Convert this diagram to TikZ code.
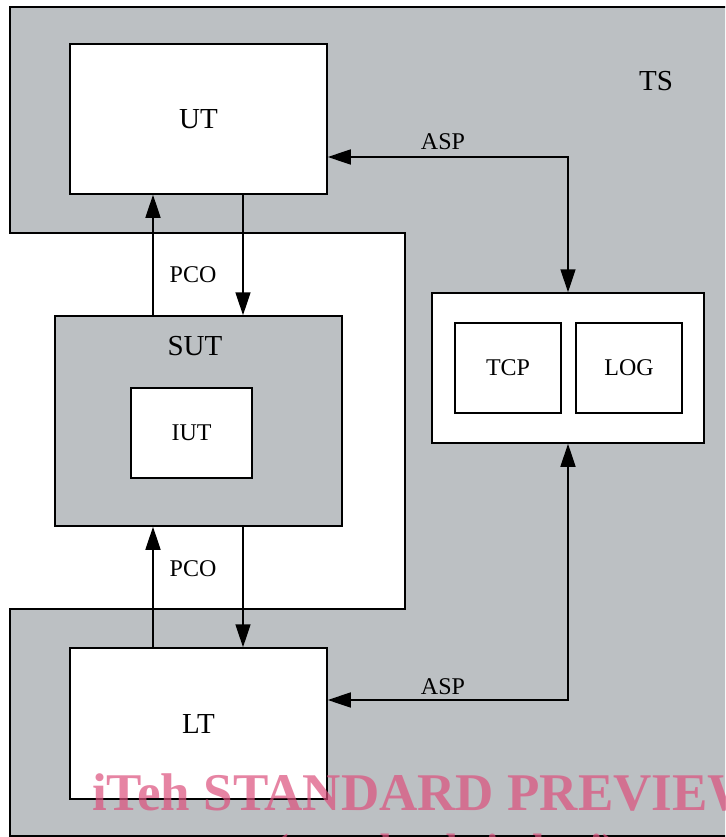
\documentclass[tikz,border=0pt]{standalone}
\usepackage{fontspec}
\setmainfont{Liberation Serif}
\usetikzlibrary{arrows.meta}
\definecolor{tsgray}{RGB}{188,192,195}
\definecolor{wmpink}{RGB}{220,80,125}
\begin{document}
\begin{tikzpicture}[x=1pt,y=-1pt,
  box/.style={draw=black,line width=1.5pt,fill=white,rectangle,inner sep=0pt},
  graybox/.style={box,fill=tsgray},
  big/.style={font=\fontsize{29}{33}\selectfont,inner sep=0pt},
  small/.style={font=\fontsize{24}{28}\selectfont,inner sep=0pt},
  conn/.style={line width=1.5pt,-{Triangle[length=23pt,width=15pt]}},
  conn2/.style={line width=1.5pt,{Triangle[length=23pt,width=15pt]}-{Triangle[length=23pt,width=15pt]}},
  wmark/.style={text=wmpink,text opacity=0.7,font=\bfseries\fontsize{53}{57}\selectfont,inner sep=0pt}]
\useasboundingbox (0,0) rectangle (725,837);
\clip (0,0) rectangle (725,837);
% TS region
\draw[line width=1.5pt,fill=tsgray] (10,7) -- (745,7) -- (745,836) -- (10,836) -- (10,609) -- (405,609) -- (405,233) -- (10,233) -- cycle;
\node[big,anchor=base] (ts) at (656,91) {TS};
% boxes
\node[box,minimum width=257pt,minimum height=150pt] (ut) at (198.5,119) {};
\node[big] (utl) at (ut.center) {UT};
\node[box,minimum width=257pt,minimum height=151pt] (lt) at (198.5,723.5) {};
\node[big] (ltl) at (lt.center) {LT};
\node[graybox,minimum width=287pt,minimum height=210pt] (sut) at (198.5,421) {};
\node[big,anchor=base] (sutl) at (195,355) {SUT};
\node[box,minimum width=121pt,minimum height=90pt] (iut) at (191.5,433) {};
\node[small] (iutl) at (iut.center) {IUT};
\node[box,minimum width=272pt,minimum height=150pt] (tc) at (568,368) {};
\node[box,minimum width=106pt,minimum height=90pt] (tcp) at (508,368) {};
\node[small] (tcpl) at (tcp.center) {TCP};
\node[box,minimum width=106pt,minimum height=90pt] (log) at (629,368) {};
\node[small] (logl) at (log.center) {LOG};
% helper coordinates
\coordinate (pa) at (153,0);
\coordinate (pb) at (243,0);
\coordinate (a1) at (0,157);
\coordinate (a2) at (0,700);
% PCO connectors
\draw[conn] (sut.north -| pa) -- (ut.south -| pa);
\draw[conn] (ut.south -| pb) -- (sut.north -| pb);
\draw[conn] (lt.north -| pa) -- (sut.south -| pa);
\draw[conn] (sut.south -| pb) -- (lt.north -| pb);
\node[small,anchor=base] (pco1) at (193,282) {PCO};
\node[small,anchor=base] (pco2) at (193,576) {PCO};
% ASP connectors
\draw[conn2] (ut.east |- a1) -| (tc.north);
\draw[conn2] (lt.east |- a2) -| (tc.south);
\node[small,anchor=base] (asp1) at (443,150) {ASP};
\node[small,anchor=base] (asp2) at (443,694) {ASP};
% watermark
\node[wmark,anchor=base west] (wm1) at (92,810) {iTeh STANDARD PREVIEW};
\node[wmark,font=\bfseries\fontsize{44}{48}\selectfont,anchor=base] (wm2) at (446,864) {(standards.iteh.ai)};
\end{tikzpicture}
\end{document}
